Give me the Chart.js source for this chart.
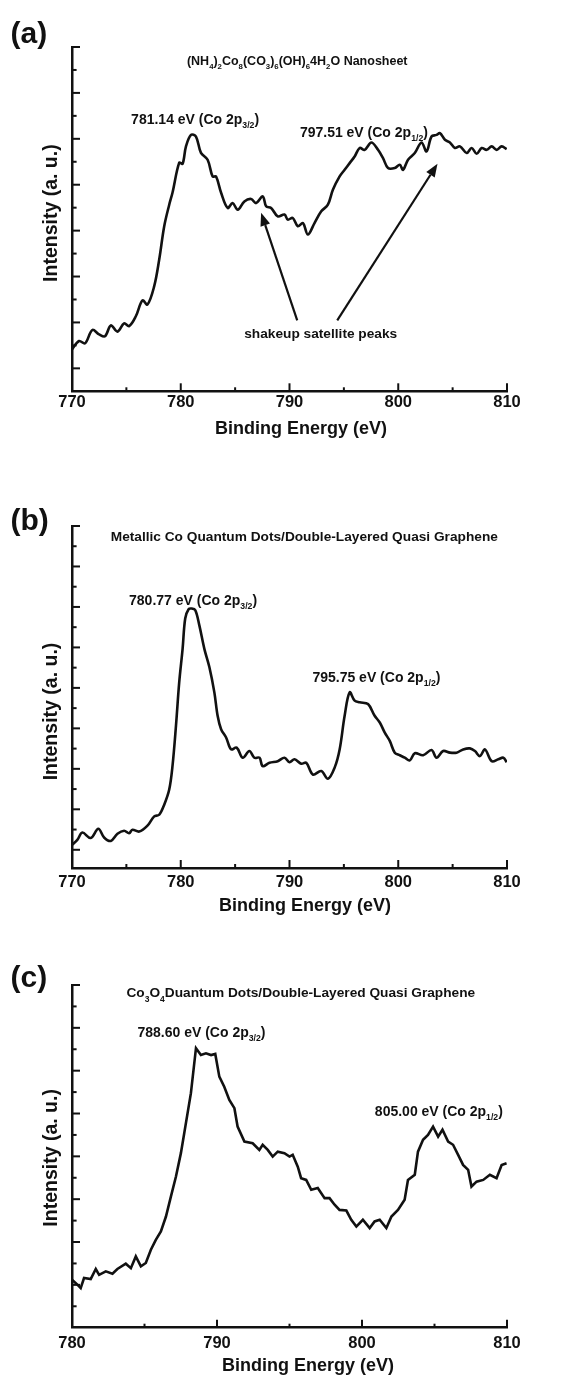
<!DOCTYPE html>
<html>
<head>
<meta charset="utf-8">
<script src="https://cdn.jsdelivr.net/npm/chart.js@4.4.1/dist/chart.umd.min.js"></script>
<style>
body{margin:0;background:#fff;width:563px;height:1378px;position:relative;overflow:hidden}
canvas{position:absolute;left:0}
</style>
</head>
<body>
<canvas id="ca" width="563" height="460" style="top:0"></canvas>
<canvas id="cb" width="563" height="460" style="top:460px"></canvas>
<canvas id="cc" width="563" height="458" style="top:920px"></canvas>
<script>
// (a) (NH4)2Co8(CO3)6(OH)6 4H2O nanosheet, Co 2p
const aEnergy = [770.00, 770.65, 771.20, 771.87, 772.49, 773.04, 773.57, 774.18, 774.79, 775.25,
  775.87, 776.48, 776.94, 777.56, 778.02, 778.48, 778.94, 779.24, 779.86, 780.17,
  780.48, 780.94, 781.40, 781.86, 782.47, 782.93, 783.24, 783.71, 784.31, 784.77,
  785.24, 785.85, 786.47, 786.93, 787.54, 787.85, 788.31, 788.92, 789.54, 789.84,
  790.30, 790.77, 791.23, 791.69, 792.30, 792.92, 793.53, 793.99, 794.61, 795.07,
  795.53, 795.99, 796.45, 796.91, 797.53, 798.14, 798.60, 799.06, 799.68, 800.14,
  800.44, 800.90, 801.52, 802.14, 802.60, 803.06, 803.52, 803.83, 804.29, 804.75,
  805.21, 805.67, 806.29, 806.75, 807.21, 807.67, 808.13, 808.59, 809.05, 809.51, 809.97];
const aIntensity = [1.83, 2.19, 2.09, 2.67, 2.48, 2.40, 2.87, 2.60, 2.96, 2.84,
  3.27, 3.96, 3.78, 4.58, 5.74, 7.19, 8.13, 8.65, 9.96, 9.91,
  10.67, 11.17, 11.10, 10.39, 10.09, 9.36, 9.36, 8.65, 7.99, 8.20,
  7.91, 8.27, 8.38, 8.20, 8.49, 8.06, 7.99, 7.62, 7.70, 7.48,
  7.55, 7.19, 7.33, 6.83, 7.33, 7.84, 8.13, 8.78, 9.36, 9.65,
  9.94, 10.23, 10.60, 10.52, 10.84, 10.52, 10.16, 9.73, 9.73, 9.87,
  9.65, 10.09, 10.38, 10.84, 10.45, 11.10, 11.17, 11.25, 10.96, 10.84,
  10.60, 10.67, 10.38, 10.60, 10.35, 10.60, 10.52, 10.67, 10.52, 10.67, 10.55];

// (b) metallic Co quantum dots / double-layered quasi graphene
const bEnergy = [770.00, 770.49, 770.95, 771.72, 772.42, 772.95, 773.57, 774.18, 774.79, 775.25,
  775.56, 776.18, 776.94, 777.56, 778.02, 778.48, 778.94, 779.24, 779.56, 779.86,
  780.17, 780.41, 780.72, 781.01, 781.34, 781.71, 782.17, 782.63, 783.09, 783.39,
  783.71, 784.17, 784.63, 785.14, 785.70, 786.31, 786.77, 787.24, 787.54, 788.16,
  788.92, 789.54, 790.00, 790.46, 791.08, 791.54, 792.15, 792.92, 793.53, 794.15,
  794.61, 795.07, 795.53, 795.99, 796.45, 797.22, 797.83, 798.30, 798.76, 799.22,
  799.68, 800.14, 800.60, 801.06, 801.52, 802.29, 803.06, 803.52, 804.13, 804.75,
  805.36, 805.97, 806.59, 807.05, 807.51, 807.97, 808.59, 809.20, 809.66, 809.97];
const bIntensity = [1.14, 1.39, 1.75, 1.48, 1.94, 1.51, 1.34, 1.69, 1.84, 1.72,
  1.89, 1.80, 2.09, 2.55, 2.63, 3.13, 3.88, 5.03, 7.02, 9.18,
  10.83, 12.33, 12.79, 12.82, 12.74, 11.99, 10.83, 9.93, 8.68, 7.52,
  6.86, 6.45, 5.86, 5.95, 5.45, 5.78, 5.45, 5.45, 5.03, 5.20,
  5.28, 5.45, 5.23, 5.37, 5.15, 5.20, 4.62, 4.79, 4.41, 4.96,
  5.86, 7.52, 8.68, 8.27, 8.19, 8.10, 7.52, 7.19, 6.69, 6.28,
  5.70, 5.57, 5.45, 5.32, 5.67, 5.57, 5.83, 5.45, 5.78, 5.70,
  5.70, 5.86, 5.91, 5.78, 5.53, 5.86, 5.28, 5.37, 5.45, 5.23];

// (c) Co3O4 quantum dots / double-layered quasi graphene
const cEnergy = [780.00, 780.37, 780.60, 780.83, 781.29, 781.64, 781.87, 782.33, 782.79, 783.13,
  783.71, 784.06, 784.40, 784.75, 785.09, 785.44, 785.78, 786.13, 786.48, 786.82,
  787.17, 787.51, 787.74, 788.20, 788.55, 788.89, 789.24, 789.59, 789.88, 790.16,
  790.50, 790.85, 791.20, 791.42, 791.89, 792.46, 792.92, 793.15, 793.50, 793.84,
  794.19, 794.65, 795.00, 795.22, 795.57, 795.80, 796.15, 796.50, 796.95, 797.42,
  797.76, 798.11, 798.45, 798.92, 799.26, 799.61, 800.06, 800.53, 800.87, 801.22,
  801.68, 802.03, 802.48, 802.94, 803.17, 803.64, 803.86, 804.21, 804.55, 804.90,
  805.25, 805.55, 805.94, 806.28, 806.63, 806.97, 807.32, 807.55, 807.90, 808.36,
  808.82, 809.28, 809.63, 809.97];
const cIntensity = [2.24, 2.01, 1.85, 2.32, 2.27, 2.74, 2.47, 2.63, 2.52, 2.74,
  2.99, 2.78, 3.33, 2.86, 3.02, 3.64, 4.10, 4.49, 5.19, 6.12,
  7.06, 8.15, 9.08, 10.95, 13.05, 12.73, 12.81, 12.73, 12.78, 11.72,
  11.25, 10.63, 10.25, 9.39, 8.69, 8.61, 8.30, 8.54, 8.30, 7.99,
  8.22, 8.15, 7.99, 8.07, 7.52, 6.98, 6.90, 6.44, 6.52, 6.05,
  6.05, 5.74, 5.50, 5.47, 5.04, 4.72, 5.04, 4.65, 4.96, 5.04,
  4.65, 5.19, 5.50, 5.97, 6.90, 7.14, 8.22, 8.77, 9.00, 9.39,
  8.92, 9.24, 8.69, 8.54, 8.07, 7.60, 7.37, 6.59, 6.82, 6.90,
  7.14, 6.98, 7.60, 7.68];

const FONT = '"Liberation Sans", Arial, sans-serif';
const INK = '#111';

// draws a string made of normal and subscript pieces
function rich(ctx, parts, x, yb, size, align) {
  const big = 'bold ' + size + 'px ' + FONT;
  const small = 'bold ' + (size * 0.62).toFixed(1) + 'px ' + FONT;
  let w = 0;
  parts.forEach(p => { ctx.font = p[1] ? small : big; w += ctx.measureText(p[0]).width; });
  let cx = align === 'center' ? x - w / 2 : x;
  ctx.textAlign = 'left';
  ctx.textBaseline = 'alphabetic';
  parts.forEach(p => {
    ctx.font = p[1] ? small : big;
    ctx.fillText(p[0], cx, yb + (p[1] ? size * 0.3 : 0));
    cx += ctx.measureText(p[0]).width;
  });
}

function arrow(ctx, x1, y1, x2, y2) {
  const ang = Math.atan2(y2 - y1, x2 - x1), L = 13, W = 5;
  const bx = x2 - L * Math.cos(ang), by = y2 - L * Math.sin(ang);
  ctx.lineWidth = 2.2;
  ctx.beginPath(); ctx.moveTo(x1, y1); ctx.lineTo(bx, by); ctx.stroke();
  ctx.beginPath();
  ctx.moveTo(x2, y2);
  ctx.lineTo(bx + W * Math.sin(ang), by - W * Math.cos(ang));
  ctx.lineTo(bx - W * Math.sin(ang), by + W * Math.cos(ang));
  ctx.closePath(); ctx.fill();
}

const decor = {
  id: 'decor',
  afterDraw(chart, args, o) {
    const ctx = chart.ctx, xs = chart.scales.x, ys = chart.scales.y, a = chart.chartArea;
    ctx.save();
    ctx.strokeStyle = INK; ctx.fillStyle = INK; ctx.lineWidth = 2;
    // inward ticks on x, major every 10 eV
    for (let v = xs.min + 5; v <= xs.max + 1e-6; v += 5) {
      const px = xs.getPixelForValue(v);
      const len = (Math.round(v) % 10 === 0) ? 8 : 4;
      ctx.beginPath(); ctx.moveTo(px, a.bottom); ctx.lineTo(px, a.bottom - len); ctx.stroke();
    }
    // inward ticks on y, major every other one counted from the top
    for (let k = 0; ys.max - k >= ys.min + 0.3; k++) {
      const py = ys.getPixelForValue(ys.max - k);
      const len = k % 2 === 0 ? 8 : 4.6;
      ctx.beginPath(); ctx.moveTo(a.left, py); ctx.lineTo(a.left + len, py); ctx.stroke();
    }
    // axis titles
    ctx.font = 'bold 18px ' + FONT;
    ctx.textAlign = 'center'; ctx.textBaseline = 'alphabetic';
    ctx.fillText('Binding Energy (eV)', o.xTitleX, a.bottom + 43);
    ctx.save();
    ctx.font = 'bold 19.5px ' + FONT;
    ctx.translate(52, (a.top + a.bottom) / 2 + o.yTitleShift);
    ctx.rotate(-Math.PI / 2);
    ctx.textBaseline = 'middle';
    ctx.fillText('Intensity (a. u.)', 0, 0);
    ctx.restore();
    // panel tag
    ctx.font = 'bold 30px ' + FONT;
    ctx.textAlign = 'left';
    ctx.fillText(o.tag, 10.5, o.tagY);
    // sample name and peak labels, anchored in data units
    o.labels.forEach(l => {
      rich(ctx, l.parts, xs.getPixelForValue(l.x), ys.getPixelForValue(l.y), l.size, 'center');
    });
    (o.arrows || []).forEach(r => {
      arrow(ctx, xs.getPixelForValue(r.from[0]), ys.getPixelForValue(r.from[1]),
        xs.getPixelForValue(r.to[0]), ys.getPixelForValue(r.to[1]));
    });
    ctx.restore();
  }
};

function spectrum(id, energy, intensity, p) {
  const h = document.getElementById(id).height;
  return new Chart(document.getElementById(id), {
    type: 'line',
    data: {
      datasets: [{
        data: energy.map((e, i) => ({ x: e, y: intensity[i] })),
        borderColor: INK,
        borderWidth: 2.6,
        pointRadius: 0,
        tension: p.tension,
        fill: false
      }]
    },
    options: {
      responsive: false,
      animation: false,
      devicePixelRatio: 1,
      layout: { padding: { top: p.top, right: 56, left: 0, bottom: 0 } },
      plugins: { legend: { display: false }, tooltip: { enabled: false }, decor: p.decor },
      scales: {
        x: {
          type: 'linear', min: p.xmin, max: p.xmax,
          afterFit: s => { s.height = h - p.bottom; },
          grid: { display: false, drawTicks: false },
          border: { color: INK, width: 2.5 },
          ticks: { stepSize: 10, padding: p.tickPad, color: INK, font: { family: FONT, size: 16.5, weight: 'bold' } }
        },
        y: {
          min: 0, max: p.ymax,
          afterFit: s => { s.width = 72; },
          grid: { display: false, drawTicks: false },
          border: { color: INK, width: 2.5 },
          ticks: { display: false }
        }
      }
    },
    plugins: [decor]
  });
}

spectrum('ca', aEnergy, aIntensity, {
  xmin: 770, xmax: 810, ymax: 15, top: 47, bottom: 391.3, tickPad: 1.5, tension: 0.35,
  decor: {
    tag: '(a)', tagY: 43, xTitleX: 301, yTitleShift: -6,
    labels: [
      { parts: [['(NH'], ['4', 1], [')'], ['2', 1], ['Co'], ['8', 1], ['(CO'], ['3', 1], [')'], ['6', 1], ['(OH)'], ['6', 1], ['4H'], ['2', 1], ['O Nanosheet']], x: 790.71, y: 14.2, size: 12.5 },
      { parts: [['781.14 eV (Co 2p'], ['3/2', 1], [')']], x: 781.32, y: 11.64, size: 14 },
      { parts: [['797.51 eV (Co 2p'], ['1/2', 1], [')']], x: 796.84, y: 11.09, size: 14 },
      { parts: [['shakeup satellite peaks']], x: 792.87, y: 2.34, size: 13.7 }
    ],
    arrows: [
      { from: [790.71, 3.09], to: [787.39, 7.78] },
      { from: [794.39, 3.09], to: [803.61, 9.91] }
    ]
  }
});

spectrum('cb', bEnergy, bIntensity, {
  xmin: 770, xmax: 810, ymax: 16.9, top: 66, bottom: 408, tickPad: 5, tension: 0.35,
  decor: {
    tag: '(b)', tagY: 70, xTitleX: 305, yTitleShift: 14.5,
    labels: [
      { parts: [['Metallic Co Quantum Dots/Double-Layered Quasi Graphene']], x: 791.36, y: 16.16, size: 13.7 },
      { parts: [['780.77 eV (Co 2p'], ['3/2', 1], [')']], x: 781.13, y: 12.99, size: 14 },
      { parts: [['795.75 eV (Co 2p'], ['1/2', 1], [')']], x: 797.99, y: 9.19, size: 14 }
    ]
  }
});

spectrum('cc', cEnergy, cIntensity, {
  xmin: 780, xmax: 810, ymax: 16, top: 65, bottom: 407.7, tickPad: 6, tension: 0,
  decor: {
    tag: '(c)', tagY: 67, xTitleX: 308, yTitleShift: 1.5,
    labels: [
      { parts: [['Co'], ['3', 1], ['O'], ['4', 1], ['Duantum Dots/Double-Layered Quasi Graphene']], x: 795.78, y: 15.42, size: 13.7 },
      { parts: [['788.60 eV (Co 2p'], ['3/2', 1], [')']], x: 788.93, y: 13.56, size: 14 },
      { parts: [['805.00 eV (Co 2p'], ['1/2', 1], [')']], x: 805.30, y: 9.90, size: 14 }
    ]
  }
});
</script>
</body>
</html>
